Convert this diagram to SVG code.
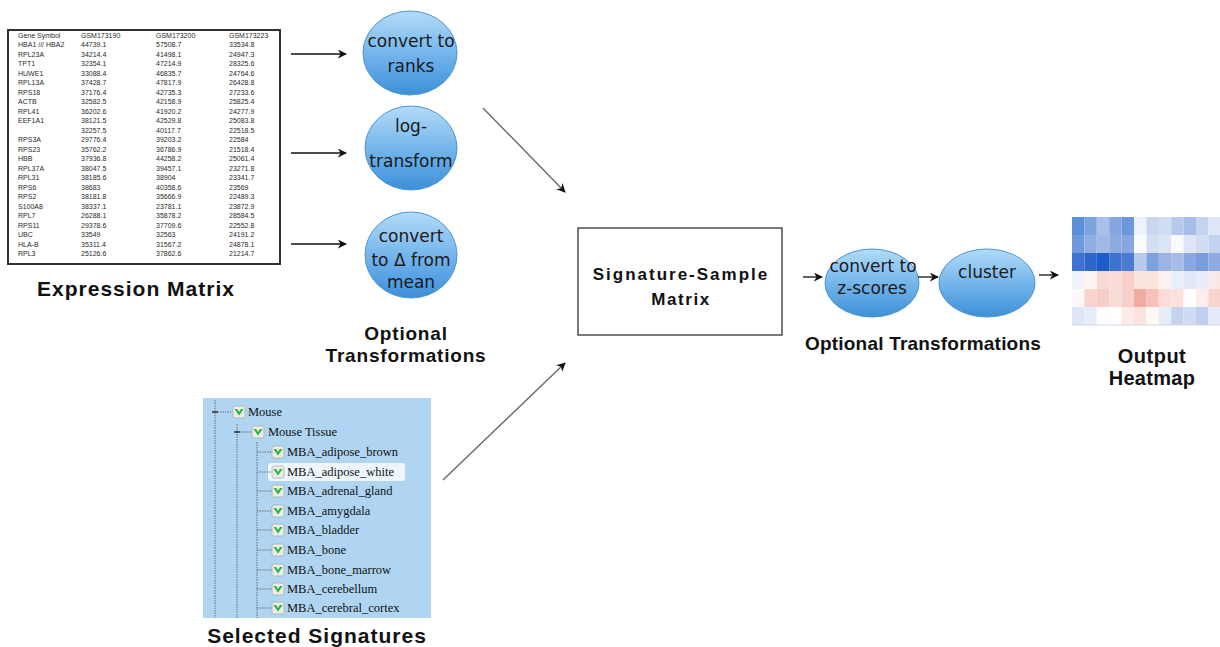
<svg xmlns="http://www.w3.org/2000/svg" width="1220" height="647" viewBox="0 0 1220 647">
<defs>
<linearGradient id="ball" x1="0" y1="0" x2="0" y2="1">
<stop offset="0" stop-color="#b3dbf8"/>
<stop offset="0.55" stop-color="#6fb2ea"/>
<stop offset="1" stop-color="#3d8fd8"/>
</linearGradient>
<marker id="ah" viewBox="0 0 10 10" refX="9" refY="5" markerWidth="9" markerHeight="9" markerUnits="userSpaceOnUse" orient="auto">
<path d="M0,0 L10,5 L0,10 L3,5 z" fill="#111"/>
</marker>
<g id="chk">
<rect x="0" y="-6" width="12" height="12" rx="2" fill="#e9ece9" stroke="#a8b0a8" stroke-width="0.8"/>
<path d="M1.5,-3 L6,3.5 L10.5,-3 L8,-3 L6,0 L4,-3 z" fill="#27b43a"/>
</g>
</defs>
<style>
.tbl{font-family:"Liberation Sans",Arial,sans-serif;font-size:7px;fill:#2a2a2a}
.lbl{font-family:"Liberation Sans",Arial,sans-serif;font-weight:bold;fill:#111;text-anchor:middle}
.ct{font-family:"DejaVu Sans",sans-serif;font-size:17px;fill:#1a1a1a;text-anchor:middle}
.tree{font-family:"Liberation Serif","Times New Roman",serif;font-size:12.5px;fill:#111}
.ball{fill:url(#ball);stroke:#4d96d4;stroke-width:1}
.arr{stroke:#111;stroke-width:1.3;fill:none;marker-end:url(#ah)}
.diag{stroke:#6a6a6a;stroke-width:1.4;fill:none;marker-end:url(#ah)}
.tl{stroke:#555;stroke-width:0.8;stroke-dasharray:1.5 1;fill:none}
</style>
<rect width="1220" height="647" fill="#fff"/>

<g id="expression-matrix">
<rect x="8" y="30" width="272" height="234" fill="#fff" stroke="#333" stroke-width="2"/>
<g class="tbl">
<text x="18" y="37.5">Gene Symbol</text><text x="81" y="37.5">GSM173190</text><text x="156" y="37.5">GSM173200</text><text x="229" y="37.5">GSM173223</text>
<text x="18" y="47">HBA1 /// HBA2</text><text x="81" y="47">44739.1</text><text x="156" y="47">57508.7</text><text x="229" y="47">33534.8</text>
<text x="18" y="56.5">RPL23A</text><text x="81" y="56.5">34214.4</text><text x="156" y="56.5">41498.1</text><text x="229" y="56.5">24947.3</text>
<text x="18" y="66">TPT1</text><text x="81" y="66">32354.1</text><text x="156" y="66">47214.9</text><text x="229" y="66">28325.6</text>
<text x="18" y="75.5">HUWE1</text><text x="81" y="75.5">33088.4</text><text x="156" y="75.5">46835.7</text><text x="229" y="75.5">24764.6</text>
<text x="18" y="85">RPL13A</text><text x="81" y="85">37428.7</text><text x="156" y="85">47817.9</text><text x="229" y="85">26428.8</text>
<text x="18" y="94.5">RPS18</text><text x="81" y="94.5">37176.4</text><text x="156" y="94.5">42735.3</text><text x="229" y="94.5">27233.6</text>
<text x="18" y="104">ACTB</text><text x="81" y="104">32582.5</text><text x="156" y="104">42158.9</text><text x="229" y="104">25825.4</text>
<text x="18" y="113.5">RPL41</text><text x="81" y="113.5">36202.6</text><text x="156" y="113.5">41920.2</text><text x="229" y="113.5">24277.9</text>
<text x="18" y="123">EEF1A1</text><text x="81" y="123">38121.5</text><text x="156" y="123">42529.8</text><text x="229" y="123">25083.8</text>
<text x="81" y="132.5">32257.5</text><text x="156" y="132.5">40117.7</text><text x="229" y="132.5">22518.5</text>
<text x="18" y="142">RPS3A</text><text x="81" y="142">29776.4</text><text x="156" y="142">39203.2</text><text x="229" y="142">22584</text>
<text x="18" y="151.5">RPS23</text><text x="81" y="151.5">35762.2</text><text x="156" y="151.5">36786.9</text><text x="229" y="151.5">21518.4</text>
<text x="18" y="161">HBB</text><text x="81" y="161">37936.8</text><text x="156" y="161">44258.2</text><text x="229" y="161">25061.4</text>
<text x="18" y="170.5">RPL37A</text><text x="81" y="170.5">38047.5</text><text x="156" y="170.5">39457.1</text><text x="229" y="170.5">23271.8</text>
<text x="18" y="180">RPL31</text><text x="81" y="180">38185.6</text><text x="156" y="180">38904</text><text x="229" y="180">23341.7</text>
<text x="18" y="189.5">RPS6</text><text x="81" y="189.5">38683</text><text x="156" y="189.5">40358.6</text><text x="229" y="189.5">23569</text>
<text x="18" y="199">RPS2</text><text x="81" y="199">38181.8</text><text x="156" y="199">35666.9</text><text x="229" y="199">22489.3</text>
<text x="18" y="208.5">S100A8</text><text x="81" y="208.5">38337.1</text><text x="156" y="208.5">23781.1</text><text x="229" y="208.5">23872.9</text>
<text x="18" y="218">RPL7</text><text x="81" y="218">26288.1</text><text x="156" y="218">35878.2</text><text x="229" y="218">28584.5</text>
<text x="18" y="227.5">RPS11</text><text x="81" y="227.5">29378.6</text><text x="156" y="227.5">37709.6</text><text x="229" y="227.5">22552.8</text>
<text x="18" y="237">UBC</text><text x="81" y="237">33549</text><text x="156" y="237">32563</text><text x="229" y="237">24191.2</text>
<text x="18" y="246.5">HLA-B</text><text x="81" y="246.5">35311.4</text><text x="156" y="246.5">31567.2</text><text x="229" y="246.5">24878.1</text>
<text x="18" y="256">RPL3</text><text x="81" y="256">25126.6</text><text x="156" y="256">37862.6</text><text x="229" y="256">21214.7</text>
</g>
<text class="lbl" x="136" y="296" font-size="21" letter-spacing="1">Expression Matrix</text>
</g>

<g id="node-ranks">
<ellipse class="ball" cx="410" cy="53" rx="47" ry="42"/>
<text class="ct" x="411" y="47">convert to</text>
<text class="ct" x="411" y="72">ranks</text>
</g>
<g id="node-log">
<ellipse class="ball" cx="411" cy="148" rx="46" ry="42"/>
<text class="ct" x="411" y="132">log-</text>
<text class="ct" x="411" y="167">transform</text>
</g>
<g id="node-delta">
<ellipse class="ball" cx="411" cy="255" rx="46" ry="43"/>
<text class="ct" x="411" y="242">convert</text>
<text class="ct" x="411" y="266">to Δ from</text>
<text class="ct" x="411" y="288">mean</text>
</g>
<g id="label-optional-left">
<text class="lbl" x="406" y="340" font-size="19" letter-spacing="0.8">Optional</text>
<text class="lbl" x="406" y="362" font-size="19" letter-spacing="0.8">Transformations</text>
</g>

<g id="node-signatures">
<rect x="203" y="398" width="228" height="220" fill="#b0d5f2"/>
<rect x="268" y="463" width="137" height="18" rx="3" fill="#eef6fb"/>
<path class="tl" d="M215,400 V618 M237,424 V618 M257,442 V618"/>
<path class="tl" d="M215,412 H231 M237,432 H251 M257,452 H271 M257,472 H271 M257,491 H271 M257,511 H271 M257,530 H271 M257,550 H271 M257,570 H271 M257,589 H271 M257,608 H271"/>
<path d="M212,412 H218 M234,432 H240" stroke="#333" stroke-width="1.4"/>
<use href="#chk" x="233" y="412"/>
<use href="#chk" x="252" y="432"/>
<use href="#chk" x="272" y="452"/>
<use href="#chk" x="272" y="472"/>
<use href="#chk" x="272" y="491"/>
<use href="#chk" x="272" y="511"/>
<use href="#chk" x="272" y="530"/>
<use href="#chk" x="272" y="550"/>
<use href="#chk" x="272" y="570"/>
<use href="#chk" x="272" y="589"/>
<use href="#chk" x="272" y="608"/>
<g class="tree">
<text x="248" y="416">Mouse</text>
<text x="268" y="436">Mouse Tissue</text>
<text x="287" y="456">MBA_adipose_brown</text>
<text x="287" y="476">MBA_adipose_white</text>
<text x="287" y="495">MBA_adrenal_gland</text>
<text x="287" y="515">MBA_amygdala</text>
<text x="287" y="534">MBA_bladder</text>
<text x="287" y="554">MBA_bone</text>
<text x="287" y="574">MBA_bone_marrow</text>
<text x="287" y="593">MBA_cerebellum</text>
<text x="287" y="612">MBA_cerebral_cortex</text>
</g>
<text class="lbl" x="317" y="643" font-size="21" letter-spacing="1">Selected Signatures</text>
</g>

<g id="node-matrix">
<rect x="578" y="228" width="204" height="107" fill="#fff" stroke="#222" stroke-width="1.2"/>
<text class="lbl" x="681" y="280" font-size="17" letter-spacing="2">Signature-Sample</text>
<text class="lbl" x="681" y="305" font-size="17" letter-spacing="1.6">Matrix</text>
</g>

<g id="node-zscores">
<ellipse class="ball" cx="872" cy="283" rx="47" ry="34"/>
<text class="ct" x="873" y="272">convert to</text>
<text class="ct" x="872" y="294">z-scores</text>
</g>
<g id="node-cluster">
<ellipse class="ball" cx="987" cy="283" rx="48" ry="34"/>
<text class="ct" x="987" y="278">cluster</text>
</g>
<g id="label-optional-right">
<text class="lbl" x="923" y="350" font-size="19" letter-spacing="0.2">Optional Transformations</text>
</g>

<g id="node-heatmap">
<g transform="translate(1072,217)">
<rect x="0" y="0" width="12.4" height="18" fill="#5b8fd8"/><rect x="12.4" y="0" width="12.4" height="18" fill="#7ba3de"/><rect x="24.8" y="0" width="12.4" height="18" fill="#a9c0e8"/><rect x="37.2" y="0" width="12.4" height="18" fill="#86a6df"/><rect x="49.6" y="0" width="12.4" height="18" fill="#6b98db"/><rect x="62" y="0" width="12.4" height="18" fill="#eef2fb"/><rect x="74.4" y="0" width="12.4" height="18" fill="#c8d6f0"/><rect x="86.8" y="0" width="12.4" height="18" fill="#d0dcf2"/><rect x="99.2" y="0" width="12.4" height="18" fill="#b8caec"/><rect x="111.6" y="0" width="12.4" height="18" fill="#a6bde8"/><rect x="124" y="0" width="12.4" height="18" fill="#c5d3ef"/><rect x="136.4" y="0" width="12.4" height="18" fill="#dde5f6"/>
<rect x="0" y="18" width="12.4" height="18" fill="#6e9adb"/><rect x="12.4" y="18" width="12.4" height="18" fill="#8eaee2"/><rect x="24.8" y="18" width="12.4" height="18" fill="#a0b9e6"/><rect x="37.2" y="18" width="12.4" height="18" fill="#8eabe1"/><rect x="49.6" y="18" width="12.4" height="18" fill="#86a7e0"/><rect x="62" y="18" width="12.4" height="18" fill="#fafbfe"/><rect x="74.4" y="18" width="12.4" height="18" fill="#d3def3"/><rect x="86.8" y="18" width="12.4" height="18" fill="#dbe3f5"/><rect x="99.2" y="18" width="12.4" height="18" fill="#f9fafd"/><rect x="111.6" y="18" width="12.4" height="18" fill="#dde5f6"/><rect x="124" y="18" width="12.4" height="18" fill="#d2ddf3"/><rect x="136.4" y="18" width="12.4" height="18" fill="#c3d2ef"/>
<rect x="0" y="36" width="12.4" height="18" fill="#3e74d0"/><rect x="12.4" y="36" width="12.4" height="18" fill="#2d66cc"/><rect x="24.8" y="36" width="12.4" height="18" fill="#1f5ccb"/><rect x="37.2" y="36" width="12.4" height="18" fill="#3f72cf"/><rect x="49.6" y="36" width="12.4" height="18" fill="#4b7cd3"/><rect x="62" y="36" width="12.4" height="18" fill="#b9caec"/><rect x="74.4" y="36" width="12.4" height="18" fill="#7ea0de"/><rect x="86.8" y="36" width="12.4" height="18" fill="#9cb4e5"/><rect x="99.2" y="36" width="12.4" height="18" fill="#a7bde8"/><rect x="111.6" y="36" width="12.4" height="18" fill="#89a8e1"/><rect x="124" y="36" width="12.4" height="18" fill="#7a9cdd"/><rect x="136.4" y="36" width="12.4" height="18" fill="#8fabe2"/>
<rect x="0" y="54" width="12.4" height="18" fill="#f0f3fb"/><rect x="12.4" y="54" width="12.4" height="18" fill="#fdf5f4"/><rect x="24.8" y="54" width="12.4" height="18" fill="#f9d8d5"/><rect x="37.2" y="54" width="12.4" height="18" fill="#f9dcd9"/><rect x="49.6" y="54" width="12.4" height="18" fill="#f8d0cb"/><rect x="62" y="54" width="12.4" height="18" fill="#fbe3e0"/><rect x="74.4" y="54" width="12.4" height="18" fill="#fbe3e0"/><rect x="86.8" y="54" width="12.4" height="18" fill="#fdf0ee"/><rect x="99.2" y="54" width="12.4" height="18" fill="#e9eef9"/><rect x="111.6" y="54" width="12.4" height="18" fill="#e1e8f7"/><rect x="124" y="54" width="12.4" height="18" fill="#e8edf9"/><rect x="136.4" y="54" width="12.4" height="18" fill="#fbe8e5"/>
<rect x="0" y="72" width="12.4" height="18" fill="#fef9f8"/><rect x="12.4" y="72" width="12.4" height="18" fill="#f8d3cf"/><rect x="24.8" y="72" width="12.4" height="18" fill="#f7cdc8"/><rect x="37.2" y="72" width="12.4" height="18" fill="#f9dbd7"/><rect x="49.6" y="72" width="12.4" height="18" fill="#f8d0cb"/><rect x="62" y="72" width="12.4" height="18" fill="#f0aca3"/><rect x="74.4" y="72" width="12.4" height="18" fill="#f5c2bb"/><rect x="86.8" y="72" width="12.4" height="18" fill="#fadcd8"/><rect x="99.2" y="72" width="12.4" height="18" fill="#fbe0dc"/><rect x="111.6" y="72" width="12.4" height="18" fill="#fefefe"/><rect x="124" y="72" width="12.4" height="18" fill="#fdeeec"/><rect x="136.4" y="72" width="12.4" height="18" fill="#f8d4cf"/>
<rect x="0" y="90" width="12.4" height="18" fill="#dde5f6"/><rect x="12.4" y="90" width="12.4" height="18" fill="#e6ecf8"/><rect x="24.8" y="90" width="12.4" height="18" fill="#fefefe"/><rect x="37.2" y="90" width="12.4" height="18" fill="#ffffff"/><rect x="49.6" y="90" width="12.4" height="18" fill="#fdebe9"/><rect x="62" y="90" width="12.4" height="18" fill="#fbe3e0"/><rect x="74.4" y="90" width="12.4" height="18" fill="#fef8f7"/><rect x="86.8" y="90" width="12.4" height="18" fill="#e6ecf8"/><rect x="99.2" y="90" width="12.4" height="18" fill="#c5d3ef"/><rect x="111.6" y="90" width="12.4" height="18" fill="#cfdbf2"/><rect x="124" y="90" width="12.4" height="18" fill="#c0cfee"/><rect x="136.4" y="90" width="12.4" height="18" fill="#e5ebf8"/>
<line x1="0" y1="108" x2="149" y2="108" stroke="#cfd8ea" stroke-width="1"/>
</g>
<text class="lbl" x="1152" y="363" font-size="20" letter-spacing="0.5">Output</text>
<text class="lbl" x="1152" y="385" font-size="20" letter-spacing="0.3">Heatmap</text>
</g>

<g id="connectors">
<line class="arr" x1="291" y1="54" x2="346" y2="54"/>
<line class="arr" x1="291" y1="153" x2="346" y2="153"/>
<line class="arr" x1="291" y1="244" x2="346" y2="244"/>
<line class="diag" x1="483" y1="108" x2="565" y2="192"/>
<line class="diag" x1="443" y1="480" x2="565" y2="363"/>
<line class="arr" x1="803" y1="277" x2="822" y2="277"/>
<line class="arr" x1="918" y1="277" x2="938" y2="277"/>
<line class="arr" x1="1039" y1="275" x2="1058" y2="275"/>
</g>
</svg>
